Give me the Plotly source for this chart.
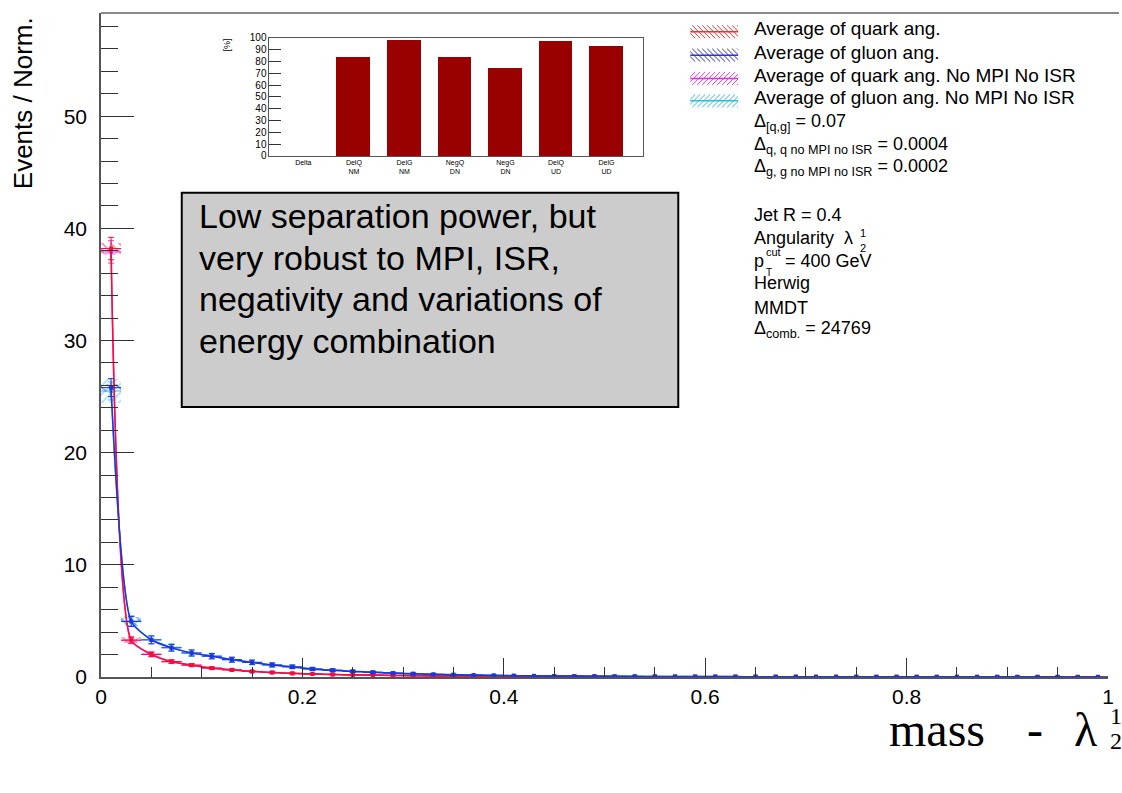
import plotly.graph_objects as go

# ---------------- data ----------------
bin_width = 0.02
n_bins = 50
bin_centers = [round(bin_width * (i + 0.5), 3) for i in range(n_bins)]

quark = [38.2, 3.30, 2.00, 1.38, 1.05, 0.80, 0.63, 0.50, 0.40, 0.33,
         0.27, 0.23, 0.19, 0.16, 0.14, 0.12, 0.10, 0.09, 0.08, 0.07,
         0.060, 0.052, 0.046, 0.041, 0.036, 0.032, 0.029, 0.026, 0.024, 0.022,
         0.020, 0.018, 0.017, 0.016, 0.015, 0.014, 0.013, 0.012, 0.011, 0.011,
         0.010, 0.009, 0.009, 0.008, 0.008, 0.007, 0.007, 0.006, 0.006, 0.005]
quark_err = [1.00, 0.28, 0.20, 0.15, 0.12, 0.10, 0.08, 0.07, 0.06, 0.05,
             0.045, 0.040, 0.035, 0.030, 0.028, 0.025, 0.022, 0.020, 0.018, 0.016,
             0.015, 0.014, 0.013, 0.012, 0.011, 0.010, 0.010, 0.009, 0.009, 0.008,
             0.008, 0.007, 0.007, 0.007, 0.006, 0.006, 0.006, 0.005, 0.005, 0.005,
             0.005, 0.004, 0.004, 0.004, 0.004, 0.004, 0.003, 0.003, 0.003, 0.003]
quark_band = [0.45, 0.25]

gluon = [25.8, 4.95, 3.30, 2.60, 2.15, 1.85, 1.55, 1.30, 1.08, 0.90,
         0.72, 0.60, 0.50, 0.42, 0.35, 0.29, 0.24, 0.20, 0.17, 0.14,
         0.12, 0.10, 0.09, 0.08, 0.07, 0.062, 0.055, 0.050, 0.045, 0.041,
         0.037, 0.034, 0.031, 0.028, 0.026, 0.024, 0.022, 0.020, 0.019, 0.018,
         0.017, 0.016, 0.015, 0.014, 0.013, 0.012, 0.012, 0.011, 0.010, 0.010]
gluon_err = [0.80, 0.45, 0.35, 0.30, 0.27, 0.24, 0.22, 0.20, 0.18, 0.16,
             0.14, 0.12, 0.10, 0.09, 0.08, 0.07, 0.06, 0.05, 0.045, 0.040,
             0.035, 0.030, 0.028, 0.025, 0.022, 0.020, 0.018, 0.016, 0.015, 0.014,
             0.013, 0.012, 0.011, 0.010, 0.010, 0.009, 0.009, 0.008, 0.008, 0.007,
             0.007, 0.007, 0.006, 0.006, 0.006, 0.005, 0.005, 0.005, 0.005, 0.004]
gluon_band = [0.35, 0.40]

quark_nompi = [37.9, 3.25, 2.05, 1.35, 1.07, 0.78, 0.64, 0.49, 0.41, 0.32,
               0.28, 0.22, 0.19, 0.17, 0.13, 0.12, 0.10, 0.09, 0.08, 0.07,
               0.060, 0.050, 0.047, 0.040, 0.037, 0.031, 0.030, 0.025, 0.024, 0.021,
               0.020, 0.019, 0.017, 0.015, 0.015, 0.013, 0.013, 0.012, 0.011, 0.010,
               0.010, 0.009, 0.008, 0.008, 0.007, 0.007, 0.006, 0.006, 0.005, 0.005]
quark_nompi_band = [0.30, 0.25]

gluon_nompi = [25.5, 5.00, 3.35, 2.65, 2.12, 1.88, 1.52, 1.32, 1.06, 0.92,
               0.70, 0.61, 0.49, 0.43, 0.34, 0.30, 0.23, 0.21, 0.16, 0.15,
               0.11, 0.10, 0.09, 0.08, 0.07, 0.060, 0.056, 0.049, 0.046, 0.040,
               0.038, 0.033, 0.031, 0.028, 0.025, 0.024, 0.021, 0.020, 0.019, 0.017,
               0.017, 0.015, 0.015, 0.013, 0.013, 0.012, 0.011, 0.011, 0.010, 0.009]
gluon_nompi_band = [1.05, 0.40]

inset_categories = ["Delta", "DelQ<br>NM", "DelG<br>NM", "NegQ<br>DN",
                    "NegG<br>DN", "DelQ<br>UD", "DelG<br>UD"]
inset_values = [0, 84, 98.5, 84, 75, 97.5, 93]

legend_labels = ["Average of quark ang.", "Average of gluon ang.",
                 "Average of quark ang. No MPI No ISR",
                 "Average of gluon ang. No MPI No ISR"]

# ---------------- geometry helpers (layout only) ----------------
W, H = 1122, 793
L, R, T, B = 101, 1111, 8, 677


def px(X):
    return (X - L) / (R - L)


def py(Y):
    return (B - Y) / (B - T)


SANS = "Liberation Sans"
SERIF = "Liberation Serif"

fig = go.Figure()

series = [
    # name, values, errors, band, color, hatch
    (legend_labels[2], quark_nompi, quark_err, quark_nompi_band, "#ff33cc", "/"),
    (legend_labels[3], gluon_nompi, gluon_err, gluon_nompi_band, "#33bbee", "/"),
    (legend_labels[0], quark, quark_err, quark_band, "#f0103a", "\\"),
    (legend_labels[1], gluon, gluon_err, gluon_band, "#2233dd", "\\"),
]

# hatched uncertainty boxes
for name, vals, errs, band, color, hatch in series:
    nb = len(band)
    fig.add_trace(go.Bar(
        x=bin_centers[:nb],
        y=[2 * b for b in band],
        base=[v - b for v, b in zip(vals[:nb], band)],
        width=bin_width,
        marker=dict(color="rgba(0,0,0,0)", line=dict(width=0),
                    pattern=dict(shape=hatch, fgcolor=color, bgcolor="rgba(0,0,0,0)",
                                 size=6, solidity=0.25)),
        showlegend=False, hoverinfo="skip",
    ))

# curves with error bars
for name, vals, errs, band, color, hatch in series:
    fig.add_trace(go.Scatter(
        x=bin_centers, y=vals, name=name, mode="lines+markers",
        line=dict(color=color, width=1.5, shape="spline", smoothing=0.6),
        marker=dict(symbol="square", size=4, color=color),
        error_y=dict(type="data", array=errs, color=color, thickness=1, width=3),
        error_x=dict(type="constant", value=bin_width / 2, color=color, thickness=1, width=0),
        showlegend=False,
    ))

# inset bar chart
fig.add_trace(go.Bar(
    x=list(range(len(inset_categories))), y=inset_values,
    width=0.67, marker=dict(color="#990000", line=dict(width=0)),
    xaxis="x2", yaxis="y2", showlegend=False,
))

shapes = []
annotations = []
DY = -3  # middle-anchor correction so cap centres land on target rows


def ann(text, X, Y, size, xanchor="left", yanchor="middle", family=SANS, angle=0,
        color="black", adjust=True):
    yy = Y + (DY if (adjust and yanchor == "middle") else 0)
    annotations.append(dict(
        text=text, x=px(X), y=py(yy), xref="paper", yref="paper",
        xanchor=xanchor, yanchor=yanchor, showarrow=False, textangle=angle,
        font=dict(family=family, size=size, color=color), borderpad=0,
    ))


# top frame line extending to the edge
shapes.append(dict(type="line", xref="paper", yref="paper", x0=0, x1=px(1122), y0=1, y1=1,
                   line=dict(color="#888888", width=2)))

# text box
shapes.append(dict(type="rect", xref="paper", yref="paper",
                   x0=px(182), x1=px(680), y0=py(405), y1=py(189),
                   fillcolor="#cccccc", line=dict(color="black", width=2), layer="above"))
box_lines = ["Low separation power, but", "very robust to MPI, ISR,",
             "negativity and variations of", "energy combination"]
for i, t in enumerate(box_lines):
    ann(t, 198, 216 + 41.7 * i, 34)

# legend swatches (hand drawn hatches)
sw_x0, sw_x1 = 692, 740
sw_rows = [27, 50.5, 74, 96.5]
sw_colors = ["#ee3333", "#3333cc", "#dd33dd", "#33bbdd"]
sw_hatch = ["\\", "\\", "/", "/"]
for yc, col, hat, lab in zip(sw_rows, sw_colors, sw_hatch, legend_labels):
    top, bot = yc - 6.5, yc + 6.5
    h = bot - top
    xs = sw_x0 - h
    while xs < sw_x1:
        a, b = xs, xs + h
        ca, cb = max(a, sw_x0), min(b, sw_x1)
        if cb > ca:
            t0 = (ca - a) / h
            t1 = (cb - a) / h
            if hat == "\\":
                y0, y1 = top + t0 * h, top + t1 * h
            else:
                y0, y1 = bot - t0 * h, bot - t1 * h
            shapes.append(dict(type="line", xref="paper", yref="paper",
                               x0=px(ca), x1=px(cb), y0=py(y0), y1=py(y1),
                               line=dict(color=col, width=1)))
        xs += 5
    shapes.append(dict(type="line", xref="paper", yref="paper",
                       x0=px(sw_x0), x1=px(sw_x1), y0=py(yc), y1=py(yc),
                       line=dict(color=col, width=1.5)))
    ann(lab, 755, yc, 19)

ann("Δ<sub>[q,g]</sub> = 0.07", 755, 121, 18)
ann("Δ<sub>q, q no MPI no ISR</sub> = 0.0004", 755, 144, 18)
ann("Δ<sub>g, g no MPI no ISR</sub> = 0.0002", 755, 167, 18)

# info block
ann("Jet R = 0.4", 755, 215, 18)
ann("Angularity  λ", 755, 238, 18)
ann("1", 861, 233, 11)
ann("2", 861, 248, 11)
ann("p", 755, 261, 18)
ann("cut", 767, 252, 11)
ann("T", 767, 272, 10)
ann("= 400 GeV", 786, 261, 18)
ann("Herwig", 755, 283, 18)
ann("MMDT", 755, 308, 18)
ann("Δ<sub>comb.</sub> = 24769", 755, 330, 18)

# inset y title
ann("[%]", 227, 40, 9, xanchor="center", angle=-90, adjust=False)

# axis titles
ann("Events / Norm.", 23, 11, 26, xanchor="center", yanchor="top", angle=-90)
ann("mass", 890, 730, 48, family=SERIF, adjust=False)
ann("-", 1038, 730, 48, xanchor="center", family=SERIF, adjust=False)
ann("λ", 1076, 730, 48, family=SERIF, adjust=False)
ann("1", 1112, 716, 24, family=SERIF, adjust=False)
ann("2", 1112, 741, 24, family=SERIF, adjust=False)

fig.update_layout(
    width=W, height=H,
    margin=dict(l=L, r=W - R, t=T, b=H - B, pad=0),
    paper_bgcolor="white", plot_bgcolor="white",
    barmode="overlay", bargap=0,
    showlegend=False,
    shapes=shapes, annotations=annotations,
    xaxis=dict(
        range=[0, 1], dtick=0.2, tick0=0, showgrid=False, zeroline=False,
        showline=True, linecolor="#555555", linewidth=1.5,
        ticks="inside", ticklen=19, tickcolor="#333333", tickwidth=1,
        tickfont=dict(family=SANS, size=21, color="black"),
        minor=dict(dtick=0.05, ticks="inside", ticklen=10, tickcolor="#333333"),
    ),
    yaxis=dict(
        range=[0, 59.2], dtick=10, tick0=0, showgrid=False, zeroline=False,
        showline=True, linecolor="#555555", linewidth=1.5,
        ticks="inside", ticklen=33, tickcolor="#333333", tickwidth=1,
        tickfont=dict(family=SANS, size=21, color="black"),
        ticklabelstandoff=8,
        minor=dict(dtick=2, ticks="inside", ticklen=17, tickcolor="#333333"),
    ),
    xaxis2=dict(
        domain=[px(270), px(645)], anchor="y2", range=[-0.67, 6.73],
        tickvals=list(range(len(inset_categories))), ticktext=inset_categories,
        ticks="", showgrid=False, zeroline=False,
        showline=True, mirror=True, linecolor="#555555", linewidth=1,
        tickfont=dict(family=SANS, size=7, color="black"),
    ),
    yaxis2=dict(
        domain=[py(152), py(33)], anchor="x2", range=[0, 100], dtick=10,
        ticks="inside", ticklen=12, tickcolor="#333333",
        showgrid=False, zeroline=False,
        showline=True, mirror=True, linecolor="#555555", linewidth=1,
        tickfont=dict(family=SANS, size=10, color="black"),
    ),
)

fig.write_html("out.html")
